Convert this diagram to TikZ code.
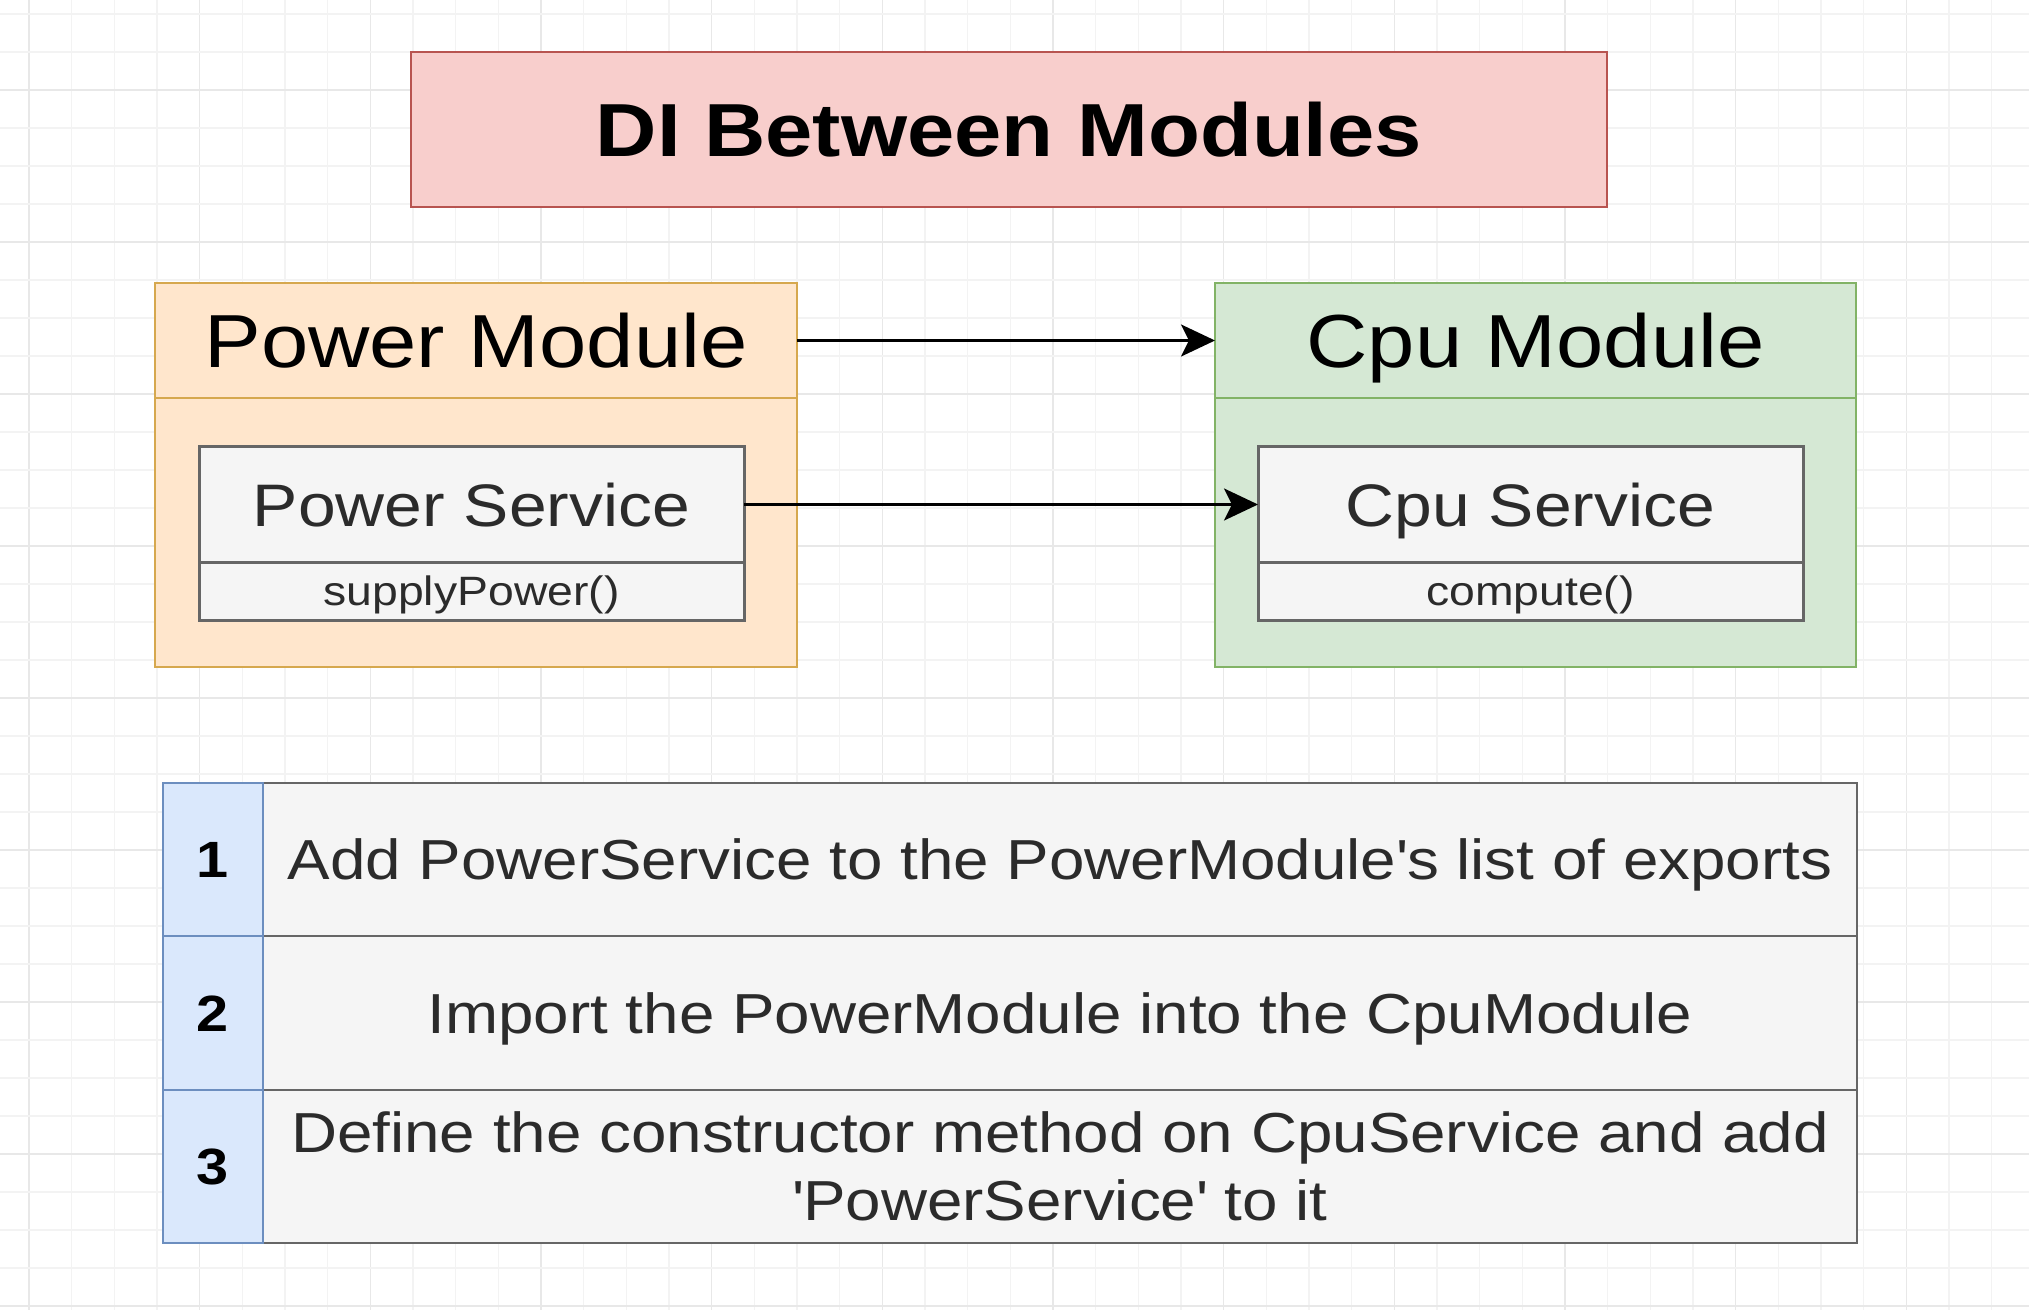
\documentclass[tikz,border=0pt]{standalone}
\usepackage{fontspec}
\setmainfont[FakeStretch=1.13]{Liberation Sans}
\usetikzlibrary{arrows.meta}
\definecolor{titlefill}{HTML}{F8CECC}
\definecolor{titledraw}{HTML}{B85450}
\definecolor{powfill}{HTML}{FFE6CC}
\definecolor{powdraw}{HTML}{D6A84E}
\definecolor{cpufill}{HTML}{D5E8D4}
\definecolor{cpudraw}{HTML}{82B366}
\definecolor{svcfill}{HTML}{F5F5F5}
\definecolor{svcdraw}{HTML}{666666}
\definecolor{numfill}{HTML}{DAE8FC}
\definecolor{numdraw}{HTML}{6C8EBF}
\definecolor{txtgrey}{HTML}{2B2B2B}
\definecolor{gridminor}{HTML}{F3F3F3}
\definecolor{gridmajor}{HTML}{E8E8E8}
\begin{document}
\begin{tikzpicture}[x=0.5pt,y=-0.5pt,
  box/.style={rectangle, inner sep=0pt, outer sep=0pt, align=center},
  titlebox/.style={box, fill=titlefill, draw=titledraw, line width=1.3pt,
    font=\bfseries\fontsize{37.6}{44}\selectfont, text height=27pt, text depth=0pt},
  powbox/.style={box, fill=powfill, draw=powdraw, line width=1.2pt},
  cpubox/.style={box, fill=cpufill, draw=cpudraw, line width=1.2pt},
  modhead/.style={font=\fontsize{37.6}{45}\selectfont, text height=27pt, text depth=0pt},
  svcbox/.style={box, fill=svcfill, draw=svcdraw, line width=1.5pt, text=txtgrey},
  svcname/.style={font=\fontsize{30}{35}\selectfont, text height=21.5pt, text depth=0pt},
  svcmeth/.style={font=\fontsize{20.5}{24}\selectfont, text height=14.7pt, text depth=0pt},
  numcell/.style={box, fill=numfill, draw=numdraw, line width=1.3pt,
    font=\bfseries\fontsize{25.5}{30}\selectfont, text height=18.3pt, text depth=0pt},
  txtcell/.style={box, fill=svcfill, draw=svcdraw, line width=1.3pt, text=txtgrey,
    font=\fontsize{28.2}{34}\selectfont},
  onerow/.style={text height=20.2pt, text depth=0pt},
  arr/.style={line width=1.5pt, -{Stealth[length=17pt,width=16pt,inset=4pt]}}
]
\useasboundingbox (0,0) rectangle (2029,1310);
\fill[white] (0,0) rectangle (2029,1310);
\begin{scope}
  \clip (0,0) rectangle (2029,1310);
  \foreach \i in {0,...,47} {
    \pgfmathtruncatemacro{\m}{mod(\i,4)}
    \ifnum\m=0
      \draw[gridmajor, line width=0.6pt] ({29+42.667*\i},0) -- ({29+42.667*\i},1310);
    \else
      \draw[gridminor, line width=0.6pt] ({29+42.667*\i},0) -- ({29+42.667*\i},1310);
    \fi
  }
  \foreach \j in {-2,...,32} {
    \pgfmathtruncatemacro{\m}{mod(\j+8,4)}
    \ifnum\m=0
      \draw[gridmajor, line width=0.6pt] (0,{90+38*\j}) -- (2029,{90+38*\j});
    \else
      \draw[gridminor, line width=0.6pt] (0,{90+38*\j}) -- (2029,{90+38*\j});
    \fi
  }
\end{scope}

% title
\node[titlebox, minimum width=598pt, minimum height=77.5pt] (title) at (1009,129.5) {DI Between Modules};

% power module
\node[powbox, minimum width=321pt, minimum height=134.5pt] (pmb) at (476,532.5) {};
\node[powbox, minimum width=321pt, minimum height=57.5pt, modhead] (pmh) at (476,340.5) {Power Module};
\node[svcbox, minimum width=272.5pt, minimum height=57.5pt, svcname] (psv) at (471.5,504.5) {Power Service};
\node[svcbox, minimum width=272.5pt, minimum height=29pt, svcmeth] (psm) at (471.5,591) {supplyPower()};

% cpu module
\node[cpubox, minimum width=320.5pt, minimum height=134.5pt] (cmb) at (1535.5,532.5) {};
\node[cpubox, minimum width=320.5pt, minimum height=57.5pt, modhead] (cmh) at (1535.5,340.5) {Cpu Module};
\node[svcbox, minimum width=272.5pt, minimum height=57.5pt, svcname] (csv) at (1530.5,504.5) {Cpu Service};
\node[svcbox, minimum width=272.5pt, minimum height=29pt, svcmeth] (csm) at (1530.5,591) {compute()};

% arrows
\draw[arr] (pmh.east) -- (cmh.west);
\draw[arr] (psv.east) -- (csv.west);

% table
\node[txtcell, onerow, minimum width=797pt, minimum height=76.5pt] (t1) at (1060,859.5) {Add PowerService to the PowerModule\textquotesingle s list of exports};
\node[txtcell, onerow, minimum width=797pt, minimum height=77pt] (t2) at (1060,1013) {Import the PowerModule into the CpuModule};
\node[txtcell, minimum width=797pt, minimum height=76.5pt] (t3) at (1060,1166.5) {Define the constructor method on CpuService and add\\\textquotesingle PowerService\textquotesingle\ to it};
\node[numcell, minimum width=50pt, minimum height=76.5pt] (n1) at (213,859.5) {1};
\node[numcell, minimum width=50pt, minimum height=77pt] (n2) at (213,1013) {2};
\node[numcell, minimum width=50pt, minimum height=76.5pt] (n3) at (213,1166.5) {3};
\end{tikzpicture}
\end{document}
